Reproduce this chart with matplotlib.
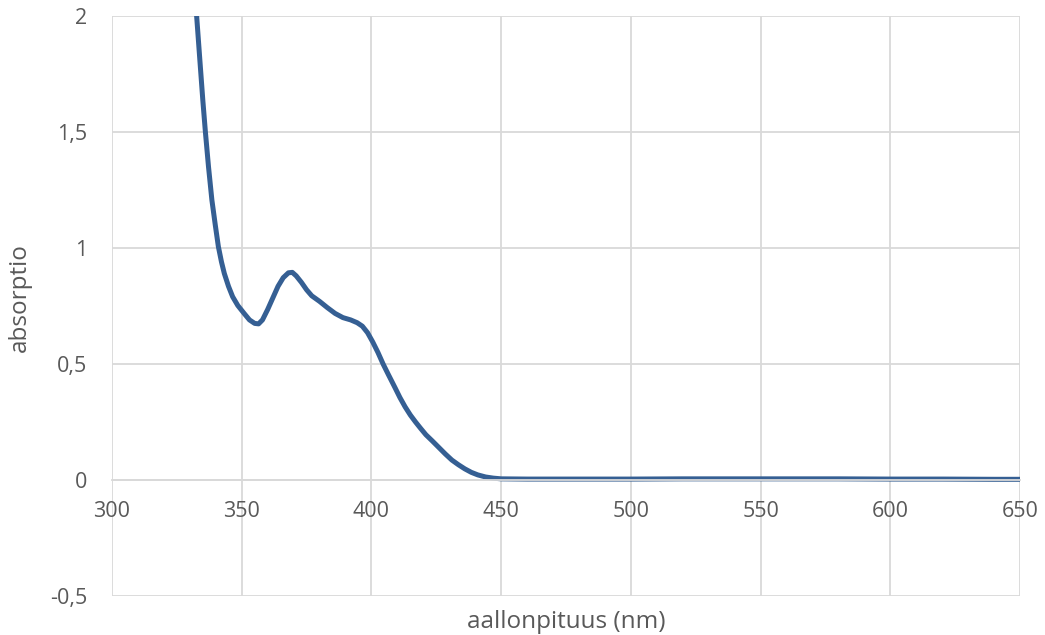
import matplotlib
matplotlib.use('Agg')
import matplotlib.pyplot as plt

# absorption spectrum, values
wavelength = [332.3, 333.8, 335.0, 336.0, 337.2, 338.5, 339.8, 341.0, 342.2, 343.3,
              344.9, 346.5, 348.5, 351.0, 353.0, 355.0, 356.5, 358.0, 360.0, 362.0,
              364.0, 366.0, 368.0, 369.5, 371.0, 373.0, 375.0, 377.0, 380.0, 383.0,
              386.0, 389.0, 392.0, 394.5, 396.5, 398.5, 400.5, 402.5, 404.5, 406.5,
              409.0, 411.0, 413.0, 415.0, 417.0, 419.0, 421.0, 423.5, 426.0, 428.5,
              431.0, 433.5, 436.0, 438.5, 441.0, 444.0, 447.0, 450.0, 460.0, 480.0,
              500.0, 520.0, 540.0, 560.0, 580.0, 600.0, 620.0, 640.0, 650.0]
absorbance = [2.05, 1.82, 1.638, 1.50, 1.35, 1.207, 1.10, 1.006, 0.94, 0.89,
              0.835, 0.79, 0.752, 0.717, 0.69, 0.675, 0.673, 0.69, 0.735, 0.785,
              0.835, 0.872, 0.893, 0.895, 0.88, 0.852, 0.82, 0.794, 0.77, 0.743,
              0.718, 0.700, 0.690, 0.678, 0.663, 0.635, 0.595, 0.55, 0.50, 0.455,
              0.40, 0.355, 0.315, 0.28, 0.25, 0.222, 0.195, 0.168, 0.14, 0.112,
              0.086, 0.066, 0.048, 0.033, 0.022, 0.013, 0.008, 0.005, 0.004, 0.004,
              0.004, 0.005, 0.005, 0.005, 0.005, 0.004, 0.004, 0.003, 0.003]

x_ticks = [300, 350, 400, 450, 500, 550, 600, 650]
y_ticks = [-0.5, 0, 0.5, 1, 1.5, 2]
y_labels = ['-0,5', '0', '0,5', '1', '1,5', '2']

grey = '#595959'
gridc = '#d9d9d9'

plt.rcParams['font.family'] = ['Open Sans', 'DejaVu Sans']

fig = plt.figure(figsize=(10.45, 6.35), dpi=100)
ax = fig.add_axes([112/1045, 39/635, 908/1045, 580/635])

ax.plot(wavelength, absorbance, color='#355f93', lw=3.6,
        solid_capstyle='round', solid_joinstyle='round')

ax.set_xlim(300, 650)
ax.set_ylim(-0.5, 2)
ax.set_xticks(x_ticks)
ax.set_yticks(y_ticks)
ax.set_yticklabels(y_labels)
ax.grid(True, color=gridc, lw=1.3)
ax.set_axisbelow(True)

for s in ['top', 'right', 'left']:
    ax.spines[s].set_visible(False)
ax.spines['bottom'].set_position(('data', 0))
ax.spines['bottom'].set_color(gridc)
ax.spines['bottom'].set_linewidth(1.3)

ax.tick_params(axis='both', length=0, labelsize=15.5, labelcolor=grey)
ax.tick_params(axis='x', pad=15)
ax.tick_params(axis='y', pad=18)

ax.set_xlabel('aallonpituus (nm)', fontsize=17.5, color=grey)
ax.set_ylabel('absorptio', fontsize=17.5, color=grey)
ax.xaxis.set_label_coords(0.5, -0.045, transform=ax.transAxes)
ax.xaxis.label.set_va('center')
ax.yaxis.set_label_coords(-0.101, 0.514, transform=ax.transAxes)
ax.yaxis.label.set_va('center')

fig.savefig('out.png', dpi=100)
